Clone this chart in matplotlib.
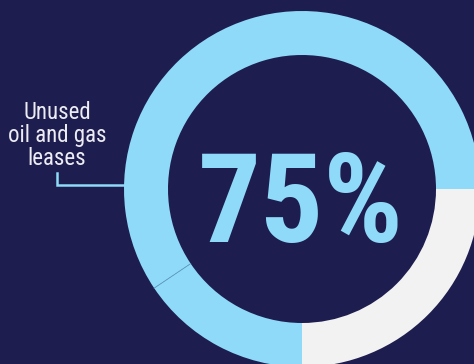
import numpy as np
import matplotlib
matplotlib.use("Agg")
import matplotlib.pyplot as plt

# share of leases (gray = used, blues = unused)
shares = [25.0, 59.4, 15.6]
colors = ['#f2f2f2', '#8fdaf8', '#8fdaf8']
big_label = '75%'
side_label = 'Unused\noil and gas\nleases'

bg = '#1e1d4f'
W, H = 474, 364
cond = ['Roboto Condensed', 'Barlow Condensed', 'DejaVu Sans']

fig = plt.figure(figsize=(W / 100, H / 100), dpi=100, facecolor=bg)
ax = fig.add_axes([0, 0, 1, 1])
ax.set_facecolor(bg)

cx, cy = 302, H - 189
R = 178
ring = 44

ax.pie(shares, colors=colors, center=(cx, cy), radius=R, startangle=-90,
       counterclock=True, wedgeprops=dict(width=ring, linewidth=0))

# thin separator between the two blue pieces
ang = np.deg2rad(-90 + 360 * (shares[0] + shares[1]) / sum(shares))
ax.plot([cx + (R - ring) * np.cos(ang), cx + R * np.cos(ang)],
        [cy + (R - ring) * np.sin(ang), cy + R * np.sin(ang)],
        color='#5f9cc0', lw=0.6)

ax.text(301, H - 242, big_label, ha='center', va='baseline', color='#8fdaf8',
        fontsize=90, fontweight='bold', family=cond)

ax.text(57, H - 165, side_label, ha='center', va='baseline', color='#ececf2',
        fontsize=16.5, family=cond, linespacing=1.0, multialignment='center')

# connector line
ax.plot([57, 57, cx - R + 2], [H - 173, H - 185, H - 185], color='#8fdaf8', lw=1.8,
        solid_joinstyle='miter')

ax.set_xlim(0, W)
ax.set_ylim(0, H)
ax.set_aspect('equal')
ax.axis('off')

fig.savefig('out.png', dpi=100, facecolor=bg)
